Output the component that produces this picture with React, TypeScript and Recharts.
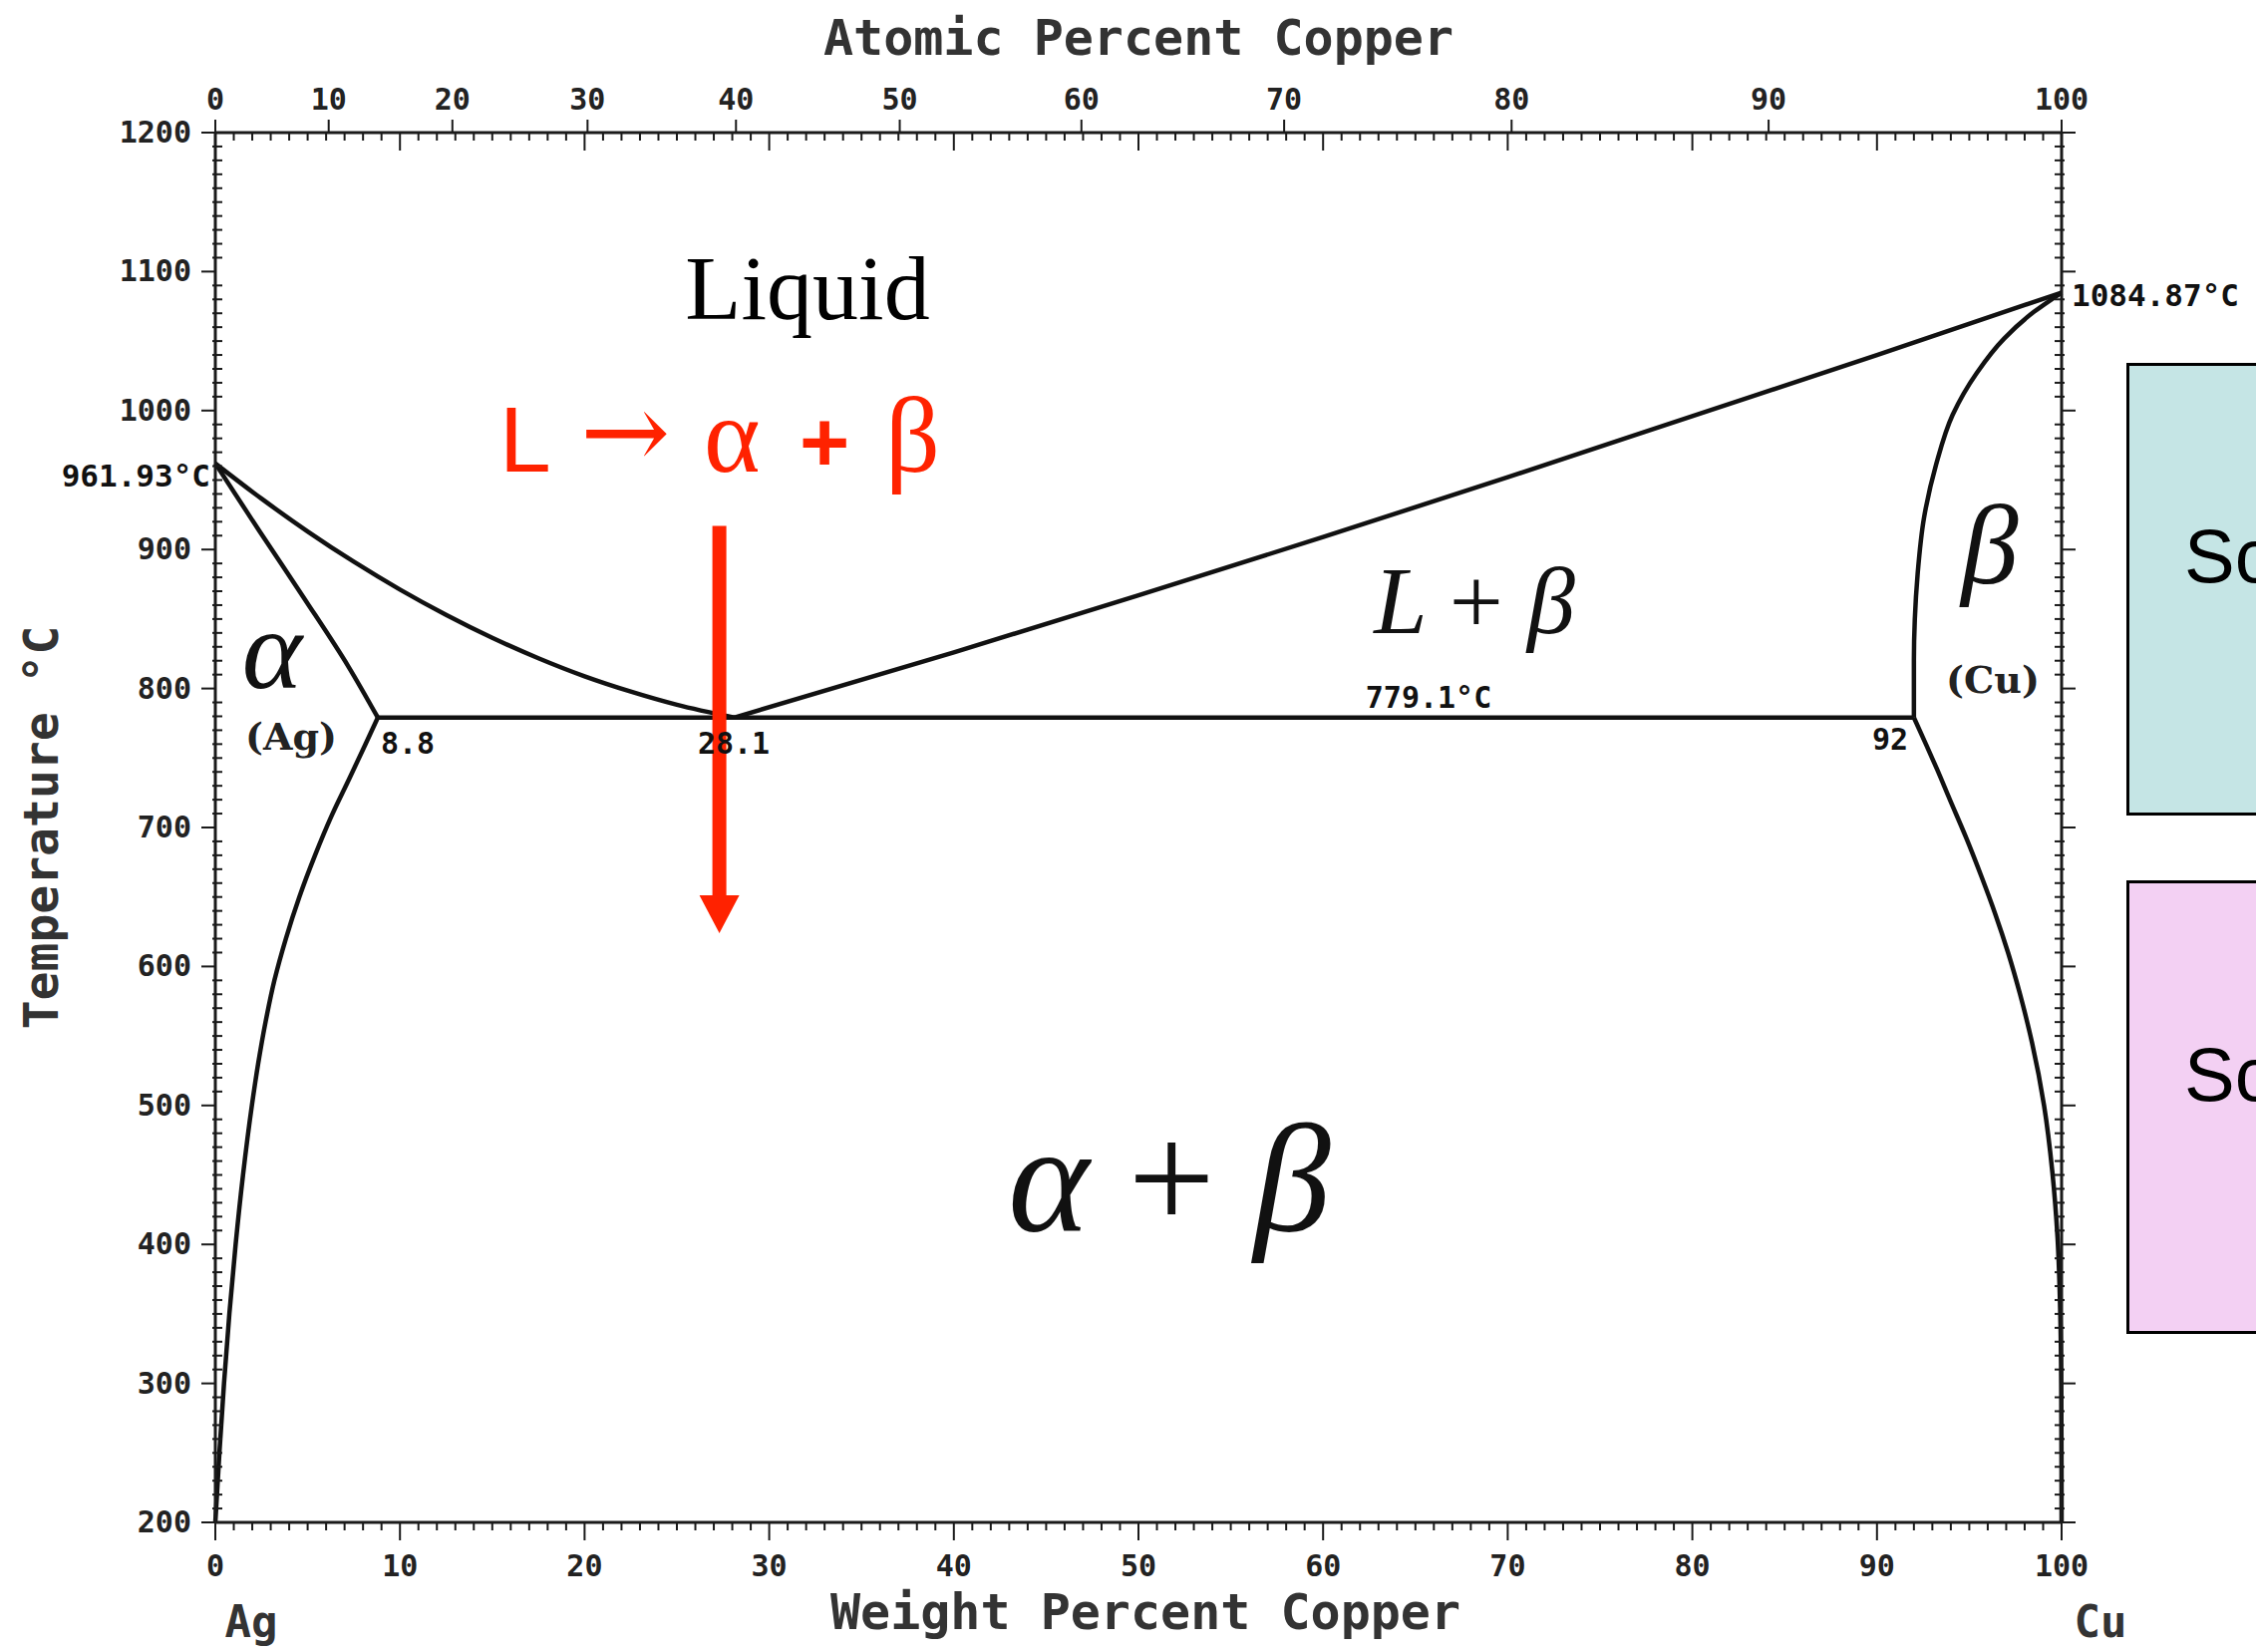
import { ComposedChart, Line, XAxis, YAxis, ReferenceLine, ReferenceDot } from 'recharts'

const WIDTH = 2263
const HEIGHT = 1657
const PLOT_LEFT = 216
const PLOT_RIGHT = 2068
const PLOT_TOP = 133
const PLOT_BOTTOM = 1527
const AXIS_SIZE = 60

const INK = '#111'
const FRAME = '#1a1a1a'
const RED = '#ff2200'

// axes
const WT_DOMAIN = [0, 100]
const TEMP_DOMAIN = [200, 1200]
const ATOMIC_LABELS = [0, 10, 20, 30, 40, 50, 60, 70, 80, 90, 100]
// where each atomic-percent tick falls on the weight-percent scale
const ATOMIC_AT_WT = [0, 6.14, 12.84, 20.16, 28.2, 37.07, 46.91, 57.89, 70.21, 84.13, 100]

const wtTicks = Array.from({ length: 101 }, (_, i) => i)
const tempTicks = Array.from({ length: 101 }, (_, i) => 200 + i * 10)
const topTicks = [...new Set([...wtTicks, ...ATOMIC_AT_WT])].sort((a, b) => a - b)

// phase boundaries, weight percent Cu vs temperature
const liquidusAg = [
  { w: 0, T: 961.93 },
  { w: 2.5, T: 936.6 },
  { w: 5, T: 913 },
  { w: 7.5, T: 891.2 },
  { w: 10, T: 871.2 },
  { w: 12.5, T: 853 },
  { w: 15, T: 836.5 },
  { w: 17.5, T: 821.8 },
  { w: 20, T: 808.8 },
  { w: 22.5, T: 797.8 },
  { w: 25, T: 788.3 },
  { w: 28.1, T: 779.1 },
]
const liquidusCu = [
  { w: 28.1, T: 779.1 },
  { w: 40, T: 826 },
  { w: 50, T: 867 },
  { w: 60, T: 909 },
  { w: 70, T: 952 },
  { w: 80, T: 996 },
  { w: 90, T: 1040 },
  { w: 100, T: 1084.87 },
]
const solidusAg = [
  { w: 0, T: 961.93 },
  { w: 2.4, T: 913 },
  { w: 4.86, T: 864 },
  { w: 7.2, T: 816 },
  { w: 8.8, T: 779.1 },
]
const solvusAg = [
  { w: 8.8, T: 779.1 },
  { w: 8.1, T: 759 },
  { w: 7.25, T: 735 },
  { w: 6.3, T: 708.5 },
  { w: 5.4, T: 680 },
  { w: 4.55, T: 650 },
  { w: 3.82, T: 620 },
  { w: 3.2, T: 590 },
  { w: 2.72, T: 560 },
  { w: 2.32, T: 530 },
  { w: 1.98, T: 500 },
  { w: 1.5, T: 450 },
  { w: 1.1, T: 400 },
  { w: 0.76, T: 350 },
  { w: 0.47, T: 300 },
  { w: 0.22, T: 250 },
  { w: 0, T: 200 },
]
const solidusCu = [
  { w: 92, T: 779.1 },
  { w: 92, T: 820 },
  { w: 92.05, T: 850 },
  { w: 92.2, T: 882 },
  { w: 92.55, T: 923 },
  { w: 93.2, T: 961 },
  { w: 94.1, T: 997 },
  { w: 95.4, T: 1027 },
  { w: 96.9, T: 1052 },
  { w: 98.5, T: 1071 },
  { w: 100, T: 1084.87 },
]
const solvusCu = [
  { w: 92, T: 779.1 },
  { w: 92.65, T: 760 },
  { w: 93.25, T: 742 },
  { w: 93.95, T: 720 },
  { w: 94.85, T: 692 },
  { w: 95.65, T: 665 },
  { w: 96.4, T: 638 },
  { w: 97.1, T: 610 },
  { w: 97.75, T: 580 },
  { w: 98.4, T: 545 },
  { w: 99.05, T: 500 },
  { w: 99.5, T: 452 },
  { w: 99.78, T: 405 },
  { w: 99.93, T: 350 },
  { w: 99.98, T: 300 },
  { w: 100, T: 200 },
]
const eutectic = [
  { w: 8.8, T: 779.1 },
  { w: 92, T: 779.1 },
]

// cooling path drawn in red
const coolingPath = { w: 27.3, from: 917, to: 650, tip: 624 }

const tickFont = {
  fontFamily: '"DejaVu Sans Mono", monospace',
  fontWeight: 700,
  fontSize: 30,
  fill: '#222',
}
const titleFont = {
  fontFamily: '"DejaVu Sans Mono", monospace',
  fontWeight: 700,
  fontSize: 50,
  fill: '#333',
}
const smallBold = {
  fontFamily: '"DejaVu Sans Mono", monospace',
  fontWeight: 700,
  fontSize: 30,
  fill: '#111',
}
const mathItalic = {
  fontFamily: '"Liberation Serif", "DejaVu Serif", serif',
  fontStyle: 'italic',
  fill: '#111',
}
const phaseTag = {
  fontFamily: '"DejaVu Serif", serif',
  fontWeight: 700,
  fontSize: 38,
  fill: '#222',
}

function BottomTick({ x, y, payload }: any) {
  const v = payload.value
  const major = v % 10 === 0
  return (
    <g>
      <line x1={x} x2={x} y1={y} y2={y + (major ? 18 : 8)} stroke={FRAME} strokeWidth={2} />
      {major && (
        <text x={x} y={y + 54} textAnchor="middle" style={tickFont}>
          {v}
        </text>
      )}
    </g>
  )
}

function TopTick({ x, y, payload }: any) {
  const v = payload.value
  const atIdx = ATOMIC_AT_WT.indexOf(v)
  const isWt = Number.isInteger(v)
  return (
    <g>
      {isWt && (
        <line x1={x} x2={x} y1={y} y2={y + (v % 10 === 0 ? 18 : 8)} stroke={FRAME} strokeWidth={2} />
      )}
      {atIdx >= 0 && (
        <>
          <line x1={x} x2={x} y1={y} y2={y - 13} stroke={FRAME} strokeWidth={2} />
          <text x={x} y={y - 23} textAnchor="middle" style={tickFont}>
            {ATOMIC_LABELS[atIdx]}
          </text>
        </>
      )}
    </g>
  )
}

function LeftTick({ x, y, payload }: any) {
  const v = payload.value
  const major = v % 100 === 0
  return (
    <g>
      {major ? (
        <line x1={x - 14} x2={x} y1={y} y2={y} stroke={FRAME} strokeWidth={2} />
      ) : (
        <line x1={x - 3} x2={x + 7} y1={y} y2={y} stroke={FRAME} strokeWidth={2} />
      )}
      {major && (
        <text x={x - 24} y={y + 10} textAnchor="end" style={tickFont}>
          {v}
        </text>
      )}
    </g>
  )
}

function RightTick({ x, y, payload }: any) {
  const v = payload.value
  const major = v % 100 === 0
  return major ? (
    <line x1={x} x2={x + 14} y1={y} y2={y} stroke={FRAME} strokeWidth={2} />
  ) : (
    <line x1={x - 7} x2={x + 3} y1={y} y2={y} stroke={FRAME} strokeWidth={2} />
  )
}

function ArrowHead({ cx, cy }: any) {
  return <path d={`M${cx - 20},${cy - 38} L${cx + 20},${cy - 38} L${cx},${cy} Z`} fill={RED} />
}

const boundaries = [
  { data: liquidusAg, type: 'monotoneX' },
  { data: liquidusCu, type: 'monotoneX' },
  { data: solidusAg, type: 'monotoneY' },
  { data: solvusAg, type: 'monotoneY' },
  { data: solidusCu, type: 'monotoneY' },
  { data: solvusCu, type: 'monotoneY' },
]

export default function App() {
  return (
    <div
      style={{
        position: 'absolute',
        left: 0,
        top: 0,
        width: WIDTH,
        height: HEIGHT,
        overflow: 'hidden',
        background: '#fff',
      }}
    >
      <ComposedChart
        width={WIDTH}
        height={HEIGHT}
        margin={{
          top: PLOT_TOP - AXIS_SIZE,
          right: WIDTH - PLOT_RIGHT - AXIS_SIZE,
          bottom: HEIGHT - PLOT_BOTTOM - AXIS_SIZE,
          left: PLOT_LEFT - AXIS_SIZE,
        }}
      >
        <XAxis
          dataKey="w"
          type="number"
          domain={WT_DOMAIN}
          ticks={wtTicks}
          interval={0}
          height={AXIS_SIZE}
          tickSize={0}
          tickMargin={0}
          tickLine={false}
          axisLine={{ stroke: FRAME, strokeWidth: 3 }}
          tick={(p: any) => <BottomTick {...p} />}
        />
        <XAxis
          xAxisId="top"
          dataKey="w"
          orientation="top"
          type="number"
          domain={WT_DOMAIN}
          ticks={topTicks}
          interval={0}
          height={AXIS_SIZE}
          tickSize={0}
          tickMargin={0}
          tickLine={false}
          axisLine={{ stroke: FRAME, strokeWidth: 3 }}
          tick={(p: any) => <TopTick {...p} />}
        />
        <YAxis
          type="number"
          domain={TEMP_DOMAIN}
          ticks={tempTicks}
          interval={0}
          width={AXIS_SIZE}
          tickSize={0}
          tickMargin={0}
          tickLine={false}
          axisLine={{ stroke: FRAME, strokeWidth: 3 }}
          tick={(p: any) => <LeftTick {...p} />}
        />
        <YAxis
          yAxisId="right"
          orientation="right"
          type="number"
          domain={TEMP_DOMAIN}
          ticks={tempTicks}
          interval={0}
          width={AXIS_SIZE}
          tickSize={0}
          tickMargin={0}
          tickLine={false}
          axisLine={{ stroke: FRAME, strokeWidth: 3 }}
          tick={(p: any) => <RightTick {...p} />}
        />
        {boundaries.map((b, i) => (
          <Line
            key={i}
            data={b.data}
            dataKey="T"
            type={b.type as any}
            stroke={INK}
            strokeWidth={4.5}
            dot={false}
            activeDot={false}
            isAnimationActive={false}
          />
        ))}
        {/* eutectic isotherm, tied to the top and right axes so they get ticks */}
        <Line
          xAxisId="top"
          yAxisId="right"
          data={eutectic}
          dataKey="T"
          type="linear"
          stroke={INK}
          strokeWidth={4.5}
          dot={false}
          activeDot={false}
          isAnimationActive={false}
        />
        <ReferenceLine
          segment={[
            { x: coolingPath.w, y: coolingPath.from },
            { x: coolingPath.w, y: coolingPath.to },
          ]}
          stroke={RED}
          strokeWidth={14}
        />
        <ReferenceDot x={coolingPath.w} y={coolingPath.tip} r={0} shape={(p: any) => <ArrowHead {...p} />} />
      </ComposedChart>

      <svg
        width={WIDTH}
        height={HEIGHT}
        style={{ position: 'absolute', left: 0, top: 0, pointerEvents: 'none' }}
      >
        <text x={1142} y={55} textAnchor="middle" style={titleFont}>
          Atomic Percent Copper
        </text>
        <text x={1149} y={1634} textAnchor="middle" style={titleFont}>
          Weight Percent Copper
        </text>
        <text x={252} y={1642} textAnchor="middle" style={{ ...titleFont, fontSize: 44 }}>
          Ag
        </text>
        <text x={2107} y={1642} textAnchor="middle" style={{ ...titleFont, fontSize: 44 }}>
          Cu
        </text>
        <text
          transform="translate(58, 830) rotate(-90)"
          textAnchor="middle"
          style={{ ...titleFont, fontSize: 48 }}
        >
          Temperature °C
        </text>

        <text x={211} y={488} textAnchor="end" style={{ ...smallBold, fontSize: 31 }}>
          961.93°C
        </text>
        <text x={2078} y={307} textAnchor="start" style={{ ...smallBold, fontSize: 31 }}>
          1084.87°C
        </text>
        <text x={382} y={756} style={smallBold}>
          8.8
        </text>
        <text x={736} y={756} textAnchor="middle" style={smallBold}>
          28.1
        </text>
        <text x={1896} y={752} textAnchor="middle" style={smallBold}>
          92
        </text>
        <text x={1433} y={710} textAnchor="middle" style={smallBold}>
          779.1°C
        </text>

        <text x={810} y={320} textAnchor="middle" style={{ fontFamily: '"Liberation Serif", serif', fontSize: 92, fill: '#000' }}>
          Liquid
        </text>
        <text y={473} style={{ fill: RED }}>
          <tspan x={501} style={{ fontFamily: '"Liberation Sans", Arial, sans-serif', fontSize: 93 }}>L</tspan>
          <tspan x={582} y={470} style={{ fontFamily: '"DejaVu Serif", serif', fontSize: 108 }}>→</tspan>
          <tspan x={706} y={473} style={{ fontFamily: '"Liberation Serif", serif', fontSize: 108 }}>α</tspan>
          <tspan x={802} style={{ fontFamily: '"Liberation Sans", Arial, sans-serif', fontWeight: 700, fontSize: 86 }}>+</tspan>
          <tspan x={888} style={{ fontFamily: '"Liberation Serif", serif', fontSize: 108 }}>β</tspan>
        </text>

        <text x={273} y={690} textAnchor="middle" style={{ ...mathItalic, fontSize: 115 }}>
          α
        </text>
        <text x={292} y={752} textAnchor="middle" style={phaseTag}>
          (Ag)
        </text>
        <text x={1996} y={585} textAnchor="middle" style={{ ...mathItalic, fontSize: 115 }}>
          β
        </text>
        <text x={1999} y={695} textAnchor="middle" style={phaseTag}>
          (Cu)
        </text>
        <text x={1479} y={635} textAnchor="middle" style={{ ...mathItalic, fontSize: 96 }}>
          L <tspan style={{ fontStyle: 'normal' }}>+</tspan> β
        </text>
        <text x={1173} y={1234} textAnchor="middle" style={{ ...mathItalic, fontSize: 155 }}>
          α <tspan style={{ fontStyle: 'normal' }}>+</tspan> β
        </text>
      </svg>

      <div
        style={{
          position: 'absolute',
          left: 2133,
          top: 364,
          width: 200,
          height: 454,
          boxSizing: 'border-box',
          background: '#c5e5e5',
          border: '3px solid #000',
        }}
      />
      <div
        style={{
          position: 'absolute',
          left: 2133,
          top: 883,
          width: 200,
          height: 455,
          boxSizing: 'border-box',
          background: '#f3d0f3',
          border: '3px solid #000',
        }}
      />
      <svg
        width={WIDTH}
        height={HEIGHT}
        style={{ position: 'absolute', left: 0, top: 0, pointerEvents: 'none' }}
      >
        <text x={2191} y={584} style={{ fontFamily: '"Liberation Sans", Arial, sans-serif', fontSize: 76, fill: '#000' }}>
          Sc
        </text>
        <text x={2191} y={1104} style={{ fontFamily: '"Liberation Sans", Arial, sans-serif', fontSize: 76, fill: '#000' }}>
          Sc
        </text>
      </svg>
    </div>
  )
}
